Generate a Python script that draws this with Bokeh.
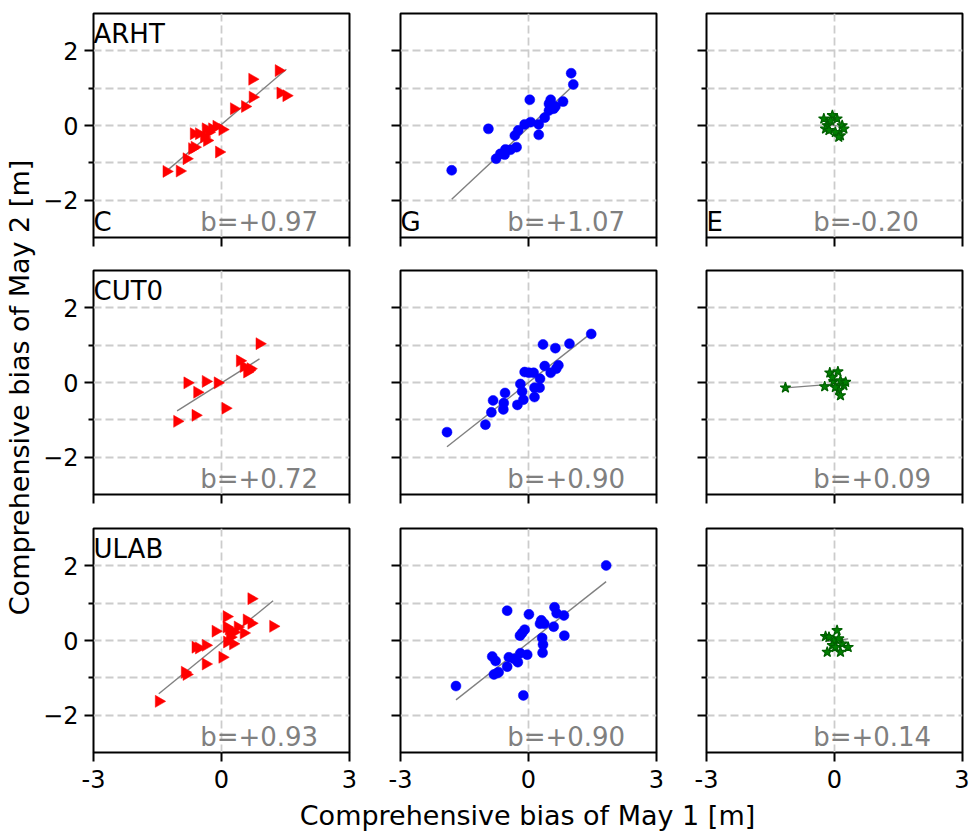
import numpy as np
from bokeh.plotting import figure
from bokeh.models import Range1d, FixedTicker, Label
from bokeh.layouts import row, column
from bokeh.core.properties import value
from bokeh.embed import file_html
from bokeh.resources import INLINE

# ---- data -------------------------------------------------------------
stations = ["ARHT", "CUT0", "ULAB"]
systems = ["C", "G", "E"]

arht_c_x = [-1.29, -0.98, -0.82, -0.69, -0.63, -0.65, -0.53, -0.41, -0.37, -0.30, -0.22,
            -0.12, 0.02, -0.06, 0.29, 0.55, 0.73, 0.72, 1.34, 1.38, 1.52, -0.34]
arht_c_y = [-1.23, -1.22, -0.89, -0.62, -0.58, -0.22, -0.22, -0.31, -0.09, -0.18, -0.09,
            -0.02, -0.11, -0.71, 0.45, 0.51, 0.76, 1.24, 1.47, 0.87, 0.80, -0.40]
arht_g_x = [-1.80, -0.94, -0.76, -0.56, -0.54, -0.42, -0.28, -0.32, -0.24, -0.09, 0.05, 0.03,
            0.24, 0.24, 0.38, 0.48, 0.52, 0.48, 0.59, 0.63, 0.81, 1.00, 1.05, -0.66]
arht_g_y = [-1.20, -0.09, -0.89, -0.78, -0.64, -0.65, -0.58, -0.27, -0.13, 0.03, 0.09, 0.69,
            0.03, -0.25, 0.21, 0.40, 0.69, 0.58, 0.45, 0.51, 0.64, 1.40, 1.10, -0.76]
arht_e_x = [-0.25, -0.17, -0.05, 0.06, 0.18, 0.22, 0.14, 0.02, -0.21, -0.09, 0.10, -0.13]
arht_e_y = [0.18, 0.00, 0.27, 0.18, 0.00, -0.09, -0.27, -0.18, -0.09, 0.13, -0.31, -0.13]

cut0_c_x = [-1.04, -0.61, -0.80, -0.57, -0.37, -0.09, 0.09, 0.43, 0.52, 0.60, 0.68, 0.89, 0.64]
cut0_c_y = [-1.04, -0.88, -0.01, -0.26, 0.03, -0.01, -0.69, 0.58, 0.43, 0.28, 0.37, 1.04, 0.32]
cut0_g_x = [-1.91, -1.01, -0.87, -0.83, -0.59, -0.58, -0.55, -0.26, -0.19, -0.15, -0.12, -0.09, 0.12,
            0.14, 0.14, 0.26, 0.27, 0.34, 0.38, 0.52, 0.63, 0.65, 0.70, 0.96, 1.47, 0.01]
cut0_g_y = [-1.33, -1.13, -0.80, -0.48, -0.72, -0.55, -0.28, -0.60, -0.04, -0.24, -0.46, 0.28, 0.26,
            -0.14, -0.39, -0.14, 0.10, 1.02, 0.44, 0.26, 0.92, 0.37, 0.46, 1.04, 1.30, 0.26]
cut0_e_x = [-1.15, -0.23, -0.11, 0.08, -0.02, 0.14, 0.22, 0.10, 0.14, 0.02, -0.05, 0.26]
cut0_e_y = [-0.14, -0.11, 0.26, 0.29, 0.03, 0.05, -0.08, -0.21, -0.35, -0.13, 0.14, 0.01]

ulab_c_x = [-1.47, -0.86, -0.82, -0.37, -0.61, -0.53, -0.37, -0.14, 0.02, 0.12, 0.12, 0.17,
            0.20, 0.13, 0.27, 0.38, 0.52, 0.59, 0.70, 0.70, 1.21, 0.29, 0.21]
ulab_c_y = [-1.63, -0.85, -0.91, -0.63, -0.18, -0.20, -0.13, 0.25, -0.45, 0.64, 0.36, 0.31,
            0.20, -0.04, -0.09, 0.36, 0.20, 0.55, 0.46, 1.12, 0.38, 0.22, 0.09]
ulab_g_x = [-1.70, -0.81, -0.70, -0.85, -0.77, -0.50, -0.46, -0.34, -0.25, -0.19, -0.03, -0.12,
            -0.50, 0.01, -0.20, -0.15, -0.09, 0.27, 0.30, 0.37, 0.32, 0.34, 0.33, 0.59, 0.61,
            0.66, 0.83, 0.84, 1.82, -0.73]
ulab_g_y = [-1.22, -0.91, -0.85, -0.43, -0.55, -0.70, -0.45, -0.49, -0.58, -0.34, -0.38, -1.47,
            0.80, 0.70, 0.13, 0.20, 0.29, 0.45, 0.54, 0.45, 0.07, -0.11, -0.33, 0.37, 0.89,
            0.73, 0.67, 0.13, 2.01, -0.87]
ulab_e_x = [-0.21, 0.06, -0.02, -0.17, -0.05, 0.14, 0.18, 0.32, -0.13, 0.10, 0.02]
ulab_e_y = [0.11, 0.27, 0.00, -0.31, -0.13, -0.31, -0.09, -0.18, 0.09, 0.05, -0.18]

# regression slope (b) and intercept per station/system
slopes = [[0.97, 1.07, -0.20], [0.72, 0.90, 0.09], [0.93, 0.90, 0.14]]
intercepts = [[0.03, -0.05, 0.00], [-0.01, 0.00, -0.04], [-0.06, -0.06, 0.00]]

panel_x = [[arht_c_x, arht_g_x, arht_e_x], [cut0_c_x, cut0_g_x, cut0_e_x], [ulab_c_x, ulab_g_x, ulab_e_x]]
panel_y = [[arht_c_y, arht_g_y, arht_e_y], [cut0_c_y, cut0_g_y, cut0_e_y], [ulab_c_y, ulab_g_y, ulab_e_y]]

x_ticks = [-3, 0, 3]
x_tick_labels = ["-3", "0", "3"]
y_ticks = [-2, 0, 2]
y_minor_ticks = [-1, 1]
y_tick_labels = ["\u22122", "0", "2"]

xlabel = "Comprehensive bias of May 1 [m]"
ylabel = "Comprehensive bias of May 2 [m]"

# ---- styling ----------------------------------------------------------
FONT = "DejaVu Sans"
markers = ["triangle", "circle", "star"]
marker_angles = [-np.pi / 2, 0, 0]
marker_sizes = [12, 10, 11]
fills = ["#ff0000", "#0000ff", "#008000"]
edges = ["#ff0000", "#0000ff", "#006000"]
edge_widths = [0.5, 0.5, 1.2]

col_left = [53, 41, 40]
col_right = [10, 10, 7]
row_top = [13, 17, 18]
row_bottom = [16, 16, 42]
FW, FH = 256, 224
GRID_COLOR = "#cccccc"
TICK_FONT_SIZE = "24px"
TITLE_FONT_SIZE = "27px"
PAGE_W, PAGE_H = 969, 833
YLAB_W = 40
PANELS_H = sum(row_top) + sum(row_bottom) + 3 * FH


def make_panel(i, j):
    p = figure(frame_width=FW, frame_height=FH,
               min_border_left=col_left[j], min_border_right=col_right[j],
               min_border_top=row_top[i], min_border_bottom=row_bottom[i],
               x_range=Range1d(-3, 3), y_range=Range1d(-3, 3),
               toolbar_location=None, output_backend="svg")
    p.outline_line_color = "black"
    p.outline_line_width = 2
    p.background_fill_color = "white"

    # dashed grid at y = -2..2 and x = 0
    p.xgrid.ticker = FixedTicker(ticks=[0])
    p.ygrid.ticker = FixedTicker(ticks=y_ticks, minor_ticks=y_minor_ticks)
    for g in (p.xgrid, p.ygrid):
        g.grid_line_color = GRID_COLOR
        g.grid_line_width = 1.8
        g.grid_line_dash = "8 4"
    p.ygrid.minor_grid_line_color = GRID_COLOR
    p.ygrid.minor_grid_line_width = 1.8
    p.ygrid.minor_grid_line_dash = "8 4"

    xa, ya = p.xaxis[0], p.yaxis[0]
    xa.ticker = FixedTicker(ticks=x_ticks)
    ya.ticker = FixedTicker(ticks=y_ticks, minor_ticks=y_minor_ticks)
    for ax in (xa, ya):
        ax.axis_line_color = None
        ax.major_tick_line_color = "black"
        ax.major_tick_line_width = 2
        ax.minor_tick_line_color = "black"
        ax.minor_tick_line_width = 2
        ax.major_tick_in = 0
        ax.major_tick_out = 9
        ax.minor_tick_in = 0
        ax.minor_tick_out = 5
        ax.major_label_text_font = FONT
        ax.major_label_text_color = "black"
    xa.minor_tick_line_color = None

    if i == 2:
        xa.major_label_overrides = dict(zip(x_ticks, x_tick_labels))
        xa.major_label_text_font_size = TICK_FONT_SIZE
        xa.major_label_standoff = 8
    else:
        xa.major_label_overrides = {t: "" for t in x_ticks}
        xa.major_label_text_font_size = "0px"
        xa.major_label_standoff = 0
    if j == 0:
        ya.major_label_overrides = dict(zip(y_ticks, y_tick_labels))
        ya.major_label_text_font_size = TICK_FONT_SIZE
        ya.major_label_standoff = 6
    else:
        ya.major_label_overrides = {t: "" for t in y_ticks}
        ya.major_label_text_font_size = "0px"
        ya.major_label_standoff = 0

    xs = np.array(panel_x[i][j])
    ys = np.array(panel_y[i][j])
    b, a = slopes[i][j], intercepts[i][j]
    lx = np.array([xs.min(), xs.max()])
    p.line(lx, a + b * lx, line_color="#808080", line_width=1.4)
    p.scatter(xs, ys, marker=markers[j], angle=marker_angles[j], size=marker_sizes[j],
              fill_color=fills[j], line_color=edges[j], line_width=edge_widths[j])

    # station name, system letter and slope text
    if j == 0:
        p.text(x=[-3], y=[2.45], text=[stations[i]],
               text_font=value(FONT), text_font_size=value("26px"), text_color="black",
               text_align="left", text_baseline="alphabetic")
    if i == 0:
        p.text(x=[-3], y=[-2.58], text=[systems[j]],
               text_font=value(FONT), text_font_size=value("26px"), text_color="black",
               text_align="left", text_baseline="alphabetic")
    p.text(x=[-0.5], y=[-2.58], text=["b=%+.2f" % b],
           text_font=value(FONT), text_font_size=value("26px"), text_color="#808080",
           text_align="left", text_baseline="alphabetic")
    return p


rows = [row(*[make_panel(i, j) for j in range(3)]) for i in range(3)]

# strip below the panels carrying the shared horizontal axis title
strip_h = PAGE_H - PANELS_H
xlab = figure(frame_width=PAGE_W - YLAB_W, frame_height=strip_h, min_border=0,
              x_range=Range1d(0, 1), y_range=Range1d(0, 1),
              x_axis_location=None, y_axis_location=None,
              toolbar_location=None, output_backend="svg")
xlab.outline_line_color = None
xlab.xgrid.visible = False
xlab.ygrid.visible = False
xlab.add_layout(Label(x=527 - YLAB_W, y=strip_h / 2 - 1, x_units="screen", y_units="screen",
                      text=xlabel, text_align="center", text_baseline="middle",
                      text_font=FONT, text_font_size=TITLE_FONT_SIZE, text_color="black"))

# narrow strip carrying the shared vertical axis title
ylab = figure(frame_width=YLAB_W, frame_height=PAGE_H, min_border=0,
              x_range=Range1d(0, 1), y_range=Range1d(0, 1),
              x_axis_location=None, y_axis_location=None,
              toolbar_location=None, output_backend="svg")
ylab.outline_line_color = None
ylab.xgrid.visible = False
ylab.ygrid.visible = False
ylab.add_layout(Label(x=19, y=PAGE_H - 387, x_units="screen", y_units="screen",
                      text=ylabel, angle=np.pi / 2, text_align="center",
                      text_baseline="middle", text_font=FONT,
                      text_font_size=TITLE_FONT_SIZE, text_color="black"))

page = row(ylab, column(*rows, xlab))
open("out.html", "w").write(file_html(page, INLINE))
